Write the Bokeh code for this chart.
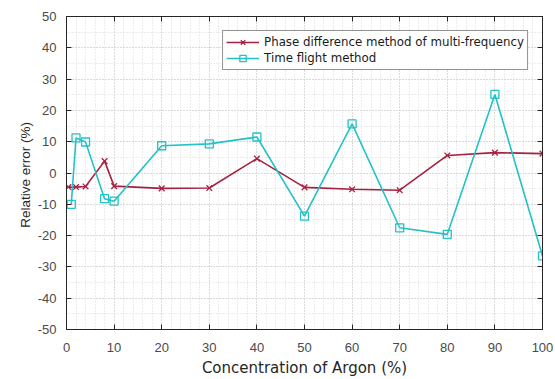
from bokeh.plotting import figure
from bokeh.models import LinearAxis, Range1d, SingleIntervalTicker, Legend, LegendItem
from bokeh.embed import file_html
from bokeh.resources import INLINE

# Data
phase_x = [0.4, 2, 4, 8, 10, 20, 30, 40, 50, 60, 70, 80, 90, 100]
phase_y = [-4.5, -4.5, -4.3, 3.8, -4.2, -4.9, -4.8, 4.6, -4.6, -5.2, -5.5, 5.6, 6.5, 6.2]
tof_x = [1, 2, 4, 8, 10, 20, 30, 40, 50, 60, 70, 80, 90, 100]
tof_y = [-10.0, 11.2, 9.9, -8.2, -9.0, 8.7, 9.3, 11.5, -13.8, 15.7, -17.5, -19.6, 25.1, -26.5]
phase_label = "Phase difference method of multi-frequency"
tof_label = "Time flight method"
x_label = "Concentration of Argon (%)"
y_label = "Relative error  (%)"
y_ticks = [-50, -40, -30, -20, -10, 0, 10, 20, 30, 40, 50]
y_tick_labels = ["-50", "-40", "-30", "-20", "-10", "0", "10", "20", "30", "40", "50"]

RED = "#A8203F"
CYAN = "#22C2C6"
AXC = "#262626"
TXT = "#4a4a4a"
FONT = "Liberation Sans"
WFONT = "DejaVu Sans"

p = figure(width=555, height=379, output_backend="svg", toolbar_location=None,
           x_range=Range1d(0, 100), y_range=Range1d(-50, 50),
           min_border_left=66, min_border_right=13, min_border_top=16, min_border_bottom=44)
p.outline_line_color = AXC
p.outline_line_width = 1
p.background_fill_color = "white"
p.border_fill_color = "white"

p.xaxis.ticker = SingleIntervalTicker(interval=10, num_minor_ticks=5)
p.yaxis.ticker = SingleIntervalTicker(interval=10, num_minor_ticks=2)
p.yaxis.major_label_overrides = {v: s for v, s in zip(y_ticks, y_tick_labels)}

for ax in (p.xaxis[0], p.yaxis[0]):
    ax.axis_line_color = AXC
    ax.major_tick_line_color = AXC
    ax.major_tick_in = 5
    ax.major_tick_out = 0
    ax.minor_tick_line_color = None
    ax.major_label_text_font = FONT
    ax.major_label_text_font_size = "13px"
    ax.major_label_text_color = TXT
    ax.axis_label_text_font_style = "normal"
    ax.axis_label_text_color = "#262626"

p.xaxis.axis_label = x_label
p.yaxis.axis_label = y_label
p.xaxis.axis_label_text_font = WFONT
p.xaxis.axis_label_text_font_size = "15px"
p.yaxis.axis_label_text_font = FONT
p.yaxis.axis_label_text_font_size = "13.5px"
p.xaxis.major_label_standoff = 9
p.xaxis.axis_label_standoff = 4
p.yaxis.major_label_standoff = 6
p.yaxis.axis_label_standoff = 2

# box-style axes on top and right with inward ticks, labels hidden
for loc in ("above", "right"):
    ax = LinearAxis(ticker=SingleIntervalTicker(interval=10),
                    major_label_text_color=None, major_label_text_alpha=0,
                    major_tick_in=5, major_tick_out=0, minor_tick_line_color=None,
                    axis_line_color=AXC, major_tick_line_color=AXC, major_label_standoff=0)
    p.add_layout(ax, loc)

for g in (p.xgrid[0], p.ygrid[0]):
    g.grid_line_color = "#c8c8c8"
    g.grid_line_dash = "1 2"
    g.grid_line_width = 1
    g.minor_grid_line_color = "#d8d8d8"
    g.minor_grid_line_dash = "1 2"
    g.minor_grid_line_width = 1

r1l = p.line(phase_x, phase_y, line_color=RED, line_width=1.6)
r1m = p.scatter(phase_x, phase_y, marker="x", size=8, line_color=RED, line_width=1.3)
r2l = p.line(tof_x, tof_y, line_color=CYAN, line_width=1.6)
r2m = p.scatter(tof_x, tof_y, marker="square", size=8, line_color=CYAN, fill_color=None, line_width=1.3)

legend = Legend(items=[LegendItem(label=phase_label, renderers=[r1l, r1m]),
                       LegendItem(label=tof_label, renderers=[r2l, r2m])],
                location="top_right")
legend.margin = 14
legend.padding = 3
legend.spacing = 0
legend.glyph_width = 33
legend.glyph_height = 16
legend.label_height = 16
legend.label_standoff = 5
legend.label_text_font = WFONT
legend.label_text_font_size = "11.8px"
legend.label_text_color = "#1a1a1a"
legend.border_line_color = AXC
legend.border_line_width = 1
legend.background_fill_alpha = 1
p.add_layout(legend, "center")

open("out.html", "w").write(file_html(p, INLINE))
